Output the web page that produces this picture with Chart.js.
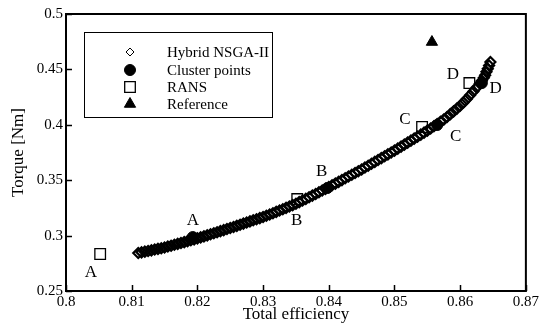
<!DOCTYPE html>
<html>
<head>
<meta charset="utf-8">
<script src="https://cdn.jsdelivr.net/npm/chart.js@4.4.0/dist/chart.umd.min.js"></script>
<style>
  html, body { margin: 0; padding: 0; background: #fff; }
  canvas { display: block; }
</style>
</head>
<body>
<canvas id="chart" width="541" height="331"></canvas>
<script>
// Hybrid NSGA-II front
const hybridEff = [
  0.8110, 0.8115, 0.8120, 0.8125, 0.8130, 0.8135, 0.8140, 0.8145, 0.8150, 0.8155,
  0.8160, 0.8165, 0.8170, 0.8175, 0.8180, 0.8185, 0.8190, 0.8195, 0.8200, 0.8205,
  0.8210, 0.8215, 0.8220, 0.8225, 0.8230, 0.8235, 0.8240, 0.8245, 0.8250, 0.8255,
  0.8260, 0.8265, 0.8270, 0.8275, 0.8280, 0.8285, 0.8290, 0.8295, 0.8300, 0.8305,
  0.8310, 0.8315, 0.8320, 0.8325, 0.8330, 0.8335, 0.8340, 0.8345, 0.8350, 0.8355,
  0.8360, 0.8365, 0.8370, 0.8375, 0.8380, 0.8385, 0.8390, 0.8395, 0.8400, 0.8405,
  0.8410, 0.8415, 0.8420, 0.8425, 0.8430, 0.8435, 0.8440, 0.8445, 0.8450, 0.8455,
  0.8460, 0.8465, 0.8470, 0.8475, 0.8480, 0.8485, 0.8490, 0.8495, 0.8500, 0.8505,
  0.8510, 0.8515, 0.8520, 0.8525, 0.8530, 0.8535, 0.8540, 0.8545, 0.8550, 0.8555,
  0.8560, 0.8565, 0.8570, 0.8575, 0.8580, 0.8585, 0.8590, 0.8595, 0.8600, 0.8605,
  0.8610, 0.8615, 0.8620, 0.8625, 0.8630, 0.8633, 0.8636, 0.8638, 0.8640, 0.8642,
  0.8644, 0.8646
];
const hybridTorque = [
  0.2843, 0.2849, 0.2855, 0.2861, 0.2867, 0.2874, 0.2880, 0.2886, 0.2893, 0.2901,
  0.2909, 0.2917, 0.2925, 0.2933, 0.2941, 0.2950, 0.2958, 0.2966, 0.2975, 0.2984,
  0.2993, 0.3002, 0.3012, 0.3021, 0.3030, 0.3040, 0.3049, 0.3059, 0.3068, 0.3078,
  0.3088, 0.3098, 0.3108, 0.3118, 0.3128, 0.3138, 0.3148, 0.3158, 0.3168, 0.3179,
  0.3191, 0.3202, 0.3214, 0.3226, 0.3238, 0.3250, 0.3263, 0.3275, 0.3288, 0.3302,
  0.3317, 0.3331, 0.3346, 0.3361, 0.3376, 0.3391, 0.3407, 0.3422, 0.3438, 0.3454,
  0.3469, 0.3485, 0.3501, 0.3517, 0.3533, 0.3549, 0.3565, 0.3581, 0.3597, 0.3614,
  0.3631, 0.3648, 0.3665, 0.3682, 0.3699, 0.3716, 0.3733, 0.3750, 0.3767, 0.3785,
  0.3803, 0.3821, 0.3839, 0.3857, 0.3875, 0.3893, 0.3911, 0.3929, 0.3947, 0.3967,
  0.3987, 0.4007, 0.4027, 0.4047, 0.4071, 0.4096, 0.4121, 0.4146, 0.4172, 0.4202,
  0.4232, 0.4266, 0.4300, 0.4336, 0.4372, 0.4397, 0.4425, 0.4448, 0.4478, 0.4505,
  0.4535, 0.4567
];

const clusterEff = [0.8193, 0.8398, 0.8565, 0.8633];
const clusterTorque = [0.2987, 0.3430, 0.3998, 0.4377];

const ransEff = [0.8052, 0.8352, 0.8542, 0.8614];
const ransTorque = [0.2834, 0.3330, 0.3980, 0.4377];

const refEff = [0.8557];
const refTorque = [0.4747];

// letters next to the points
const labelText = ['A', 'A', 'B', 'B', 'C', 'C', 'D', 'D'];
const labelEff = [0.8038, 0.8193, 0.8351, 0.8389, 0.8516, 0.8593, 0.8589, 0.8654];
const labelTorque = [0.2671, 0.3140, 0.3140, 0.3574, 0.4050, 0.3890, 0.4458, 0.4330];

const xTicks = [0.80, 0.81, 0.82, 0.83, 0.84, 0.85, 0.86, 0.87];
const xTickLabels = ['0.8', '0.81', '0.82', '0.83', '0.84', '0.85', '0.86', '0.87'];
const yTicks = [0.25, 0.30, 0.35, 0.40, 0.45, 0.50];
const yTickLabels = ['0.25', '0.3', '0.35', '0.4', '0.45', '0.5'];

const legendNames = ['Hybrid NSGA-II', 'Cluster points', 'RANS', 'Reference'];

const serif = '"Liberation Serif", "Times New Roman", serif';

function toPoints(xs, ys) {
  return xs.map((x, i) => ({ x: x, y: ys[i] }));
}

const styles = {
  hybrid: { pointStyle: 'rectRot', radius: 5, fill: 'rgba(0,0,0,0)', border: '#000', width: 2.2 },
  cluster: { pointStyle: 'circle', radius: 5.5, fill: '#000', border: '#000', width: 1 },
  rans: { pointStyle: 'rect', radius: 7.5, fill: '#fff', border: '#000', width: 1.3 },
  ref: { pointStyle: 'triangle', radius: 6.5, fill: '#000', border: '#000', width: 1 }
};
const legendHybrid = { pointStyle: 'rectRot', radius: 4, fill: '#fff', border: '#000', width: 1 };

function ds(label, data, s) {
  return {
    label: label,
    data: data,
    showLine: false,
    pointStyle: s.pointStyle,
    pointRadius: s.radius,
    pointBackgroundColor: s.fill,
    pointBorderColor: s.border,
    pointBorderWidth: s.width
  };
}

// frame, inner ticks, letters and legend
const extras = {
  id: 'extras',
  afterDatasetsDraw(chart) {
    const ctx = chart.ctx;
    const a = chart.chartArea;
    const xs = chart.scales.x, ys = chart.scales.y;
    ctx.save();
    ctx.strokeStyle = '#000';

    // ticks pointing inwards
    ctx.lineWidth = 1.5;
    ctx.beginPath();
    xTicks.forEach(v => {
      const px = Math.round(xs.getPixelForValue(v)) + 0.5;
      ctx.moveTo(px, a.bottom);
      ctx.lineTo(px, a.bottom - 6);
    });
    yTicks.forEach(v => {
      const py = Math.round(ys.getPixelForValue(v)) + 0.5;
      ctx.moveTo(a.left, py);
      ctx.lineTo(a.left + 6, py);
    });
    ctx.stroke();

    // plot frame
    ctx.lineWidth = 2;
    ctx.strokeRect(a.left, a.top, a.right - a.left, a.bottom - a.top);

    // point letters
    ctx.fillStyle = '#000';
    ctx.font = '17px ' + serif;
    ctx.textAlign = 'center';
    ctx.textBaseline = 'middle';
    labelText.forEach((t, i) => {
      ctx.fillText(t, xs.getPixelForValue(labelEff[i]), ys.getPixelForValue(labelTorque[i]));
    });

    // legend box
    ctx.lineWidth = 1;
    ctx.strokeRect(84.5, 32.5, 188, 85);
    const order = [legendHybrid, styles.cluster, styles.rans, styles.ref];
    const rowY = [52, 70, 87, 104];
    ctx.font = '15px ' + serif;
    ctx.textAlign = 'left';
    legendNames.forEach((name, i) => {
      const s = order[i];
      ctx.fillStyle = s.fill;
      ctx.strokeStyle = s.border;
      ctx.lineWidth = s.width;
      Chart.helpers.drawPoint(ctx, {
        pointStyle: s.pointStyle, radius: s.radius, rotation: 0, borderWidth: s.width
      }, 130, rowY[i]);
      ctx.fillStyle = '#000';
      ctx.fillText(name, 167, rowY[i] + 1);
    });
    ctx.restore();
  }
};

new Chart(document.getElementById('chart'), {
  type: 'scatter',
  data: {
    datasets: [
      ds('Reference', toPoints(refEff, refTorque), styles.ref),
      ds('Cluster points', toPoints(clusterEff, clusterTorque), styles.cluster),
      ds('Hybrid NSGA-II', toPoints(hybridEff, hybridTorque), styles.hybrid),
      ds('RANS', toPoints(ransEff, ransTorque), styles.rans)
    ]
  },
  options: {
    responsive: false,
    animation: false,
    events: [],
    layout: { padding: { left: 0, right: 14, top: 14, bottom: 0 } },
    plugins: { legend: { display: false }, tooltip: { enabled: false } },
    scales: {
      x: {
        type: 'linear',
        min: 0.80,
        max: 0.87,
        afterBuildTicks: s => { s.ticks = xTicks.map(v => ({ value: v })); },
        afterFit: s => { s.height = 40; },
        grid: { display: false, drawTicks: false },
        border: { display: false },
        ticks: {
          color: '#000',
          padding: 2,
          maxRotation: 0,
          autoSkip: false,
          font: { family: serif, size: 15 },
          callback: (v, i) => xTickLabels[i]
        },
        title: {
          display: true,
          text: 'Total efficiency',
          color: '#000',
          font: { family: serif, size: 17 },
          padding: { top: 0, bottom: 6 }
        }
      },
      y: {
        type: 'linear',
        min: 0.25,
        max: 0.5,
        afterBuildTicks: s => { s.ticks = yTicks.map(v => ({ value: v })); },
        afterFit: s => { s.width = 66; },
        grid: { display: false, drawTicks: false },
        border: { display: false },
        ticks: {
          color: '#000',
          padding: 3,
          autoSkip: false,
          font: { family: serif, size: 15 },
          callback: (v, i) => yTickLabels[i]
        },
        title: {
          display: true,
          text: 'Torque [Nm]',
          color: '#000',
          font: { family: serif, size: 17 },
          padding: { top: 8, bottom: 0 }
        }
      }
    }
  },
  plugins: [extras]
});
</script>
</body>
</html>
